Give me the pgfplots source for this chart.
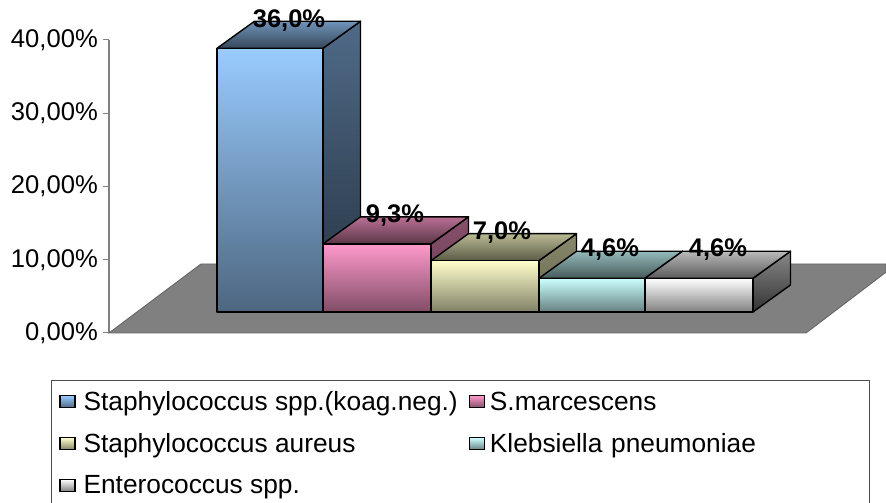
\documentclass[border=0pt]{standalone}
\usepackage{pgfplots}
\usepackage{fontspec}
\setmainfont{Liberation Sans}
\pgfplotsset{compat=1.18}

% colours: front (a top, b bottom), lid (a back, b front), side (a top, b bottom)
\definecolor{oneFa}{HTML}{99CCFF}\definecolor{oneFb}{HTML}{4D6680}
\definecolor{oneTa}{HTML}{7094BA}\definecolor{oneTb}{HTML}{36475A}
\definecolor{oneSa}{HTML}{4F6A88}\definecolor{oneSb}{HTML}{263340}
\definecolor{twoFa}{HTML}{FF99CC}\definecolor{twoFb}{HTML}{804D66}
\definecolor{twoTa}{HTML}{BA7094}\definecolor{twoTb}{HTML}{5A3647}
\definecolor{twoSa}{HTML}{88506B}\definecolor{twoSb}{HTML}{663D52}
\definecolor{treFa}{HTML}{FFFFCC}\definecolor{treFb}{HTML}{808066}
\definecolor{treTa}{HTML}{BABA94}\definecolor{treTb}{HTML}{5A5A47}
\definecolor{treSa}{HTML}{88886B}\definecolor{treSb}{HTML}{666652}
\definecolor{fouFa}{HTML}{CCFFFF}\definecolor{fouFb}{HTML}{668080}
\definecolor{fouTa}{HTML}{94BABA}\definecolor{fouTb}{HTML}{475A5A}
\definecolor{fouSa}{HTML}{6B8888}\definecolor{fouSb}{HTML}{526666}
\definecolor{fivFa}{HTML}{FFFFFF}\definecolor{fivFb}{HTML}{808080}
\definecolor{fivTa}{HTML}{BABABA}\definecolor{fivTb}{HTML}{5A5A5A}
\definecolor{fivSa}{HTML}{888888}\definecolor{fivSb}{HTML}{333333}

% x0, x1, value, colour prefix; bars stand 2.87 above the front of the floor
\newcommand{\threedbar}[4]{%
  \pgfmathsetmacro\ya{2.87}%
  \pgfmathsetmacro\yb{#3+2.87}%
  \pgfmathsetmacro\yc{#3+2.87+3.69}%
  \pgfmathsetmacro\yd{2.87+3.69}%
  \pgfmathsetmacro\xb{#1+37.5}%
  \pgfmathsetmacro\xc{#2+37.5}%
  \addplot[forget plot,shade,top color=#4Sa,bottom color=#4Sb,draw=black,line width=1.4pt,line join=round]
    coordinates {(#2,\ya)(\xc,\yd)(\xc,\yc)(#2,\yb)} --cycle;
  \addplot[forget plot,shade,top color=#4Ta,bottom color=#4Tb,draw=black,line width=1.4pt,line join=round]
    coordinates {(#1,\yb)(\xb,\yc)(\xc,\yc)(#2,\yb)} --cycle;
  \addplot[forget plot,shade,top color=#4Fa,bottom color=#4Fb,draw=black,line width=1.4pt,line join=round]
    coordinates {(#1,\ya)(#1,\yb)(#2,\yb)(#2,\ya)} --cycle;
}
\newcommand{\swatch}[1]{\addlegendimage{legend image code/.code={
    \path[shade,top color=#1Fa,bottom color=#1Fb,draw=black,line width=1.1pt]
      (0pt,-6pt) rectangle (15pt,6pt);}}}

\begin{document}
\begin{tikzpicture}[x=1pt,y=1pt]
\useasboundingbox (0,0) rectangle (886,503);
\begin{axis}[
  at={(109pt,170pt)},anchor=south west,
  scale only axis,width=777pt,height=293pt,
  xmin=109,xmax=886,ymin=0,ymax=40,
  clip=false,
  axis x line=none,
  axis y line=left,
  axis line style={-,draw=gray,line width=1.2pt},
  ytick={0,10,20,30,40},
  tick align=outside,
  major tick length=6pt,
  tick style={draw=gray,line width=1pt},
  ticklabel style={font=\fontsize{25.6}{30}\selectfont,inner sep=5pt},
  yticklabel={\pgfmathprintnumber[fixed,fixed zerofill,precision=2,use comma,assume math mode=true]{\tick}\%},
  legend columns=2,
  legend cell align=left,
  legend style={
    at={(axis cs:51,-6.42)},anchor=north west,
    draw=black!70,line width=0.9pt,
    font=\fontsize{26.3}{30}\selectfont,
    inner xsep=8pt,inner ysep=9pt,
    row sep=17.5pt,
    /tikz/column 1/.style={column sep=6pt},
    /tikz/column 2/.style={column sep=9pt},
    /tikz/column 3/.style={column sep=3pt},
    /tikz/column 4/.style={nodes={text width=370pt,align=left}},
  },
]
% floor
\addplot[forget plot,fill=gray,draw=black!60,line width=0.9pt] coordinates
  {(109,0)(806,0)(886,8.3)(886,9.42)(201,9.42)} --cycle;

\threedbar{217}{323}{36.0}{one}
\threedbar{323}{431}{9.3}{two}
\threedbar{431}{539}{7.0}{tre}
\threedbar{539}{645}{4.6}{fou}
\threedbar{645}{753}{4.6}{fiv}

% value labels
\addplot[forget plot,draw=none,mark=none,point meta=explicit symbolic,
  nodes near coords,
  nodes near coords style={anchor=center,inner sep=0pt,
    font=\fontsize{25.5}{30}\selectfont\bfseries}]
  coordinates {(289,42.6)[36,0\%] (395,16.0)[9,3\%] (502,13.65)[7,0\%]
    (610,11.33)[4,6\%] (718,11.33)[4,6\%]};

\swatch{one}\addlegendentry{Staphylococcus spp.(koag.neg.)}
\swatch{two}\addlegendentry{S.marcescens}
\swatch{tre}\addlegendentry{Staphylococcus aureus}
\swatch{fou}\addlegendentry{Klebsiella pneumoniae}
\swatch{fiv}\addlegendentry{Enterococcus spp.}
\end{axis}
\end{tikzpicture}
\end{document}
